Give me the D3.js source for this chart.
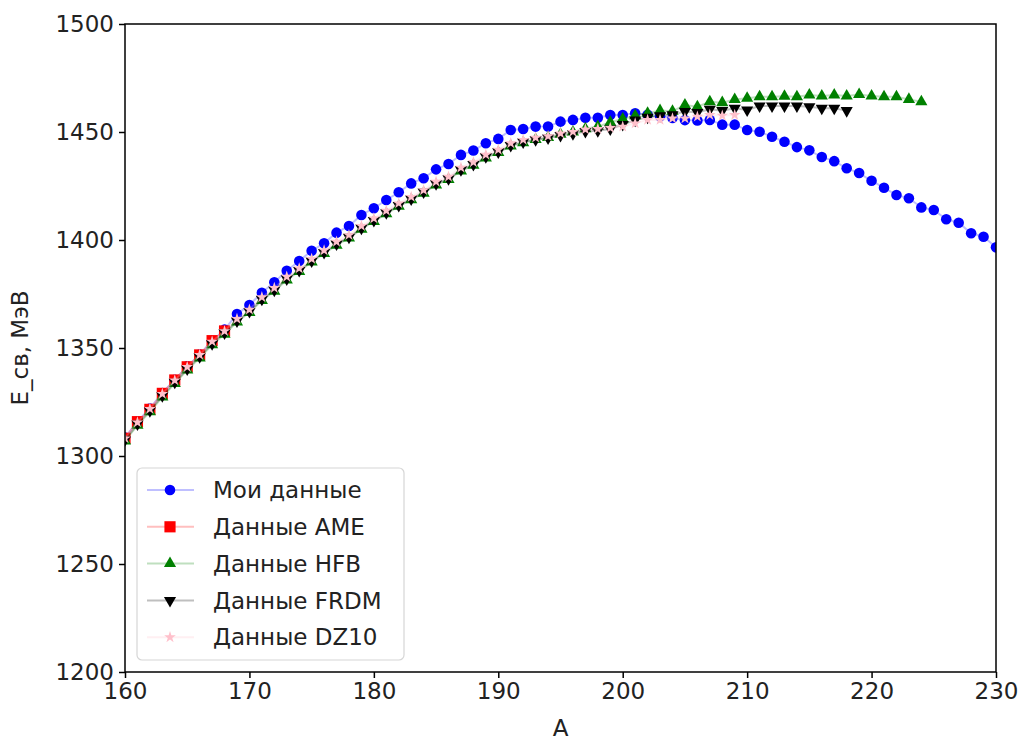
<!DOCTYPE html>
<html>
<head>
<meta charset="utf-8">
<script src="https://cdn.jsdelivr.net/npm/d3@7"></script>
<style>
  body { margin: 0; background: #fff; }
  text { font-family: "DejaVu Sans", sans-serif; fill: #222; }
</style>
</head>
<body>
<svg id="chart"></svg>
<script>
// mass numbers are consecutive integers starting at 160 for every series
const myA = d3.range(160, 231);
const myE = [1308.5, 1316.0, 1322.0, 1329.2, 1335.3, 1341.5, 1347.0, 1353.3, 1358.5, 1365.7,
  1369.9, 1375.6, 1380.4, 1385.8, 1390.3, 1395.0, 1398.5, 1403.4, 1406.5, 1411.6,
  1414.7, 1418.5, 1422.1, 1426.2, 1428.6, 1432.7, 1435.2, 1439.4, 1441.4, 1444.8,
  1446.8, 1450.9, 1451.4, 1452.5, 1452.5, 1454.8, 1455.6, 1456.6, 1456.6, 1457.9,
  1457.9, 1458.7, 1458.0, 1457.3, 1456.5, 1455.5, 1455.3, 1455.6, 1453.4, 1453.4,
  1450.9, 1450.1, 1447.8, 1445.5, 1443.0, 1441.5, 1438.4, 1436.5, 1433.2, 1431.0,
  1427.4, 1424.2, 1420.8, 1419.3, 1415.1, 1413.9, 1409.6, 1408.0, 1403.1, 1401.5,
  1396.6];

const ameA = d3.range(160, 169);
const ameE = [1308.2, 1315.9, 1321.6, 1329.0, 1335.2, 1341.3, 1346.8, 1353.4, 1357.9];

const hfbA = d3.range(160, 225);
const hfbE = [1307.0, 1314.2, 1320.5, 1327.3, 1333.6, 1339.8, 1345.4, 1351.5, 1356.4, 1362.0,
  1366.4, 1372.0, 1376.3, 1381.5, 1385.4, 1389.8, 1393.7, 1397.6, 1400.9, 1405.0,
  1408.6, 1412.1, 1415.6, 1418.6, 1421.7, 1425.5, 1428.0, 1432.0, 1434.6, 1438.0,
  1440.5, 1443.5, 1445.0, 1446.5, 1447.5, 1449.0, 1450.0, 1451.5, 1452.5, 1454.5,
  1456.0, 1457.5, 1458.7, 1459.9, 1459.6, 1462.5, 1461.7, 1464.0, 1463.6, 1465.0,
  1465.6, 1466.3, 1466.3, 1466.5, 1466.3, 1467.1, 1466.7, 1467.1, 1466.7, 1467.4,
  1466.7, 1466.3, 1466.3, 1465.1, 1464.0];

const frdmA = d3.range(160, 219);
const frdmE = [1307.5, 1314.8, 1321.0, 1327.9, 1334.1, 1340.3, 1345.9, 1352.0, 1357.0, 1362.5,
  1366.9, 1372.6, 1376.8, 1382.0, 1385.9, 1390.3, 1394.2, 1398.2, 1401.3, 1405.5,
  1409.0, 1412.6, 1416.0, 1419.0, 1422.2, 1426.0, 1428.4, 1432.5, 1435.0, 1438.5,
  1440.8, 1443.8, 1445.4, 1446.4, 1447.2, 1448.4, 1449.2, 1450.2, 1450.6, 1451.4,
  1453.5, 1455.5, 1456.8, 1457.5, 1458.0, 1459.5, 1459.0, 1460.5, 1459.9, 1461.0,
  1460.2, 1462.0, 1462.0, 1462.0, 1462.0, 1461.7, 1461.0, 1461.0, 1459.9];

const dzA = d3.range(160, 210);
const dzE = [1308.2, 1315.6, 1321.8, 1328.8, 1335.0, 1341.2, 1346.8, 1353.0, 1357.8, 1363.5,
  1367.8, 1373.5, 1377.8, 1383.0, 1386.9, 1391.3, 1395.2, 1399.2, 1402.3, 1406.5,
  1410.0, 1413.6, 1417.0, 1420.0, 1423.1, 1427.0, 1429.3, 1433.5, 1436.0, 1439.5,
  1441.8, 1444.8, 1446.4, 1447.4, 1448.1, 1449.4, 1450.1, 1451.2, 1451.4, 1451.9,
  1452.5, 1454.0, 1455.6, 1455.6, 1456.3, 1456.3, 1457.1, 1457.9, 1457.6, 1457.9];

const seriesNames = ['Мои данные', 'Данные AME', 'Данные HFB', 'Данные FRDM', 'Данные DZ10'];
const seriesColors = ['blue', 'red', 'green', 'black', 'pink'];
const xTicks = [160, 170, 180, 190, 200, 210, 220, 230];
const yTicks = [1200, 1250, 1300, 1350, 1400, 1450, 1500];

const width = 1022, height = 742;
const mLeft = 125, mRight = 996, mTop = 24, mBottom = 672;
const fs = 23;

let svg = d3.select('#chart')
    .attr('width', width)
    .attr('height', height);

svg.append('rect').attr('width', width).attr('height', height).attr('fill', '#fff');

let xScale = d3.scaleLinear().domain([160, 230]).range([mLeft, mRight]);
let yScale = d3.scaleLinear().domain([1200, 1500]).range([mBottom, mTop]);

let plot = svg.append('g');
plot.append('defs').append('clipPath').attr('id', 'clip')
    .append('rect')
    .attr('x', mLeft).attr('y', mTop)
    .attr('width', mRight - mLeft).attr('height', mBottom - mTop);

const shapes = [
    {type: d3.symbolCircle, size: 88, rot: 0},
    {type: d3.symbolSquare, size: 125, rot: 0},
    {type: d3.symbolTriangle, size: 64, rot: 0},
    {type: d3.symbolTriangle, size: 64, rot: 180},
    {type: d3.symbolStar, size: 42, rot: 0}
];

const allSeries = [
    {a: myA, e: myE},
    {a: ameA, e: ameE},
    {a: hfbA, e: hfbE},
    {a: frdmA, e: frdmE},
    {a: dzA, e: dzE}
];

let body = plot.append('g').attr('clip-path', 'url(#clip)');
let line = d3.line().x(d => xScale(d[0])).y(d => yScale(d[1]));

allSeries.forEach((s, i) => {
    let pts = s.a.map((a, k) => [a, s.e[k]]);
    body.append('path')
        .datum(pts)
        .attr('d', line)
        .attr('fill', 'none')
        .attr('stroke', seriesColors[i])
        .attr('stroke-opacity', 0.25)
        .attr('stroke-width', 2);
    body.selectAll('.m' + i)
        .data(pts)
        .enter()
        .append('path')
        .attr('class', 'm' + i)
        .attr('d', d3.symbol().type(shapes[i].type).size(shapes[i].size))
        .attr('transform', d => `translate(${xScale(d[0])},${yScale(d[1])}) rotate(${shapes[i].rot})`)
        .attr('fill', seriesColors[i]);
});

// axes
let xAxis = d3.axisBottom(xScale).tickValues(xTicks).tickSize(6).tickPadding(5).tickFormat(d3.format('d'));
let yAxis = d3.axisLeft(yScale).tickValues(yTicks).tickSize(6).tickPadding(5).tickFormat(d3.format('d'));

let gx = svg.append('g').attr('transform', `translate(0,${mBottom})`).call(xAxis);
let gy = svg.append('g').attr('transform', `translate(${mLeft},0)`).call(yAxis);
[gx, gy].forEach(g => {
    g.select('.domain').remove();
    g.selectAll('line').attr('stroke', '#000').attr('stroke-width', 1.5);
    g.selectAll('text').style('font-size', fs + 'px').attr('fill', '#222');
});

svg.append('rect')
    .attr('x', mLeft).attr('y', mTop)
    .attr('width', mRight - mLeft).attr('height', mBottom - mTop)
    .attr('fill', 'none').attr('stroke', '#000').attr('stroke-width', 1.5);

svg.append('text')
    .attr('x', (mLeft + mRight) / 2).attr('y', 736)
    .attr('text-anchor', 'middle')
    .style('font-size', fs + 'px')
    .text('A');

svg.append('text')
    .attr('transform', `translate(28,${(mTop + mBottom) / 2}) rotate(-90)`)
    .attr('text-anchor', 'middle')
    .style('font-size', fs + 'px')
    .text('E_св, МэВ');

// legend
let legend = svg.append('g');
legend.append('rect')
    .attr('x', 137).attr('y', 468)
    .attr('width', 267).attr('height', 192)
    .attr('rx', 5)
    .attr('fill', '#fff').attr('fill-opacity', 0.8)
    .attr('stroke', '#d6d6d6').attr('stroke-width', 1.2);

seriesNames.forEach((name, i) => {
    let cy = 490 + i * 36.8;
    legend.append('line')
        .attr('x1', 147).attr('x2', 194)
        .attr('y1', cy).attr('y2', cy)
        .attr('stroke', seriesColors[i])
        .attr('stroke-opacity', 0.25)
        .attr('stroke-width', 2);
    legend.append('path')
        .attr('d', d3.symbol().type(shapes[i].type).size(shapes[i].size))
        .attr('transform', `translate(170,${cy}) rotate(${shapes[i].rot})`)
        .attr('fill', seriesColors[i]);
    legend.append('text')
        .attr('x', 213).attr('y', cy)
        .attr('dy', '0.36em')
        .style('font-size', fs + 'px')
        .text(name);
});
</script>
</body>
</html>
